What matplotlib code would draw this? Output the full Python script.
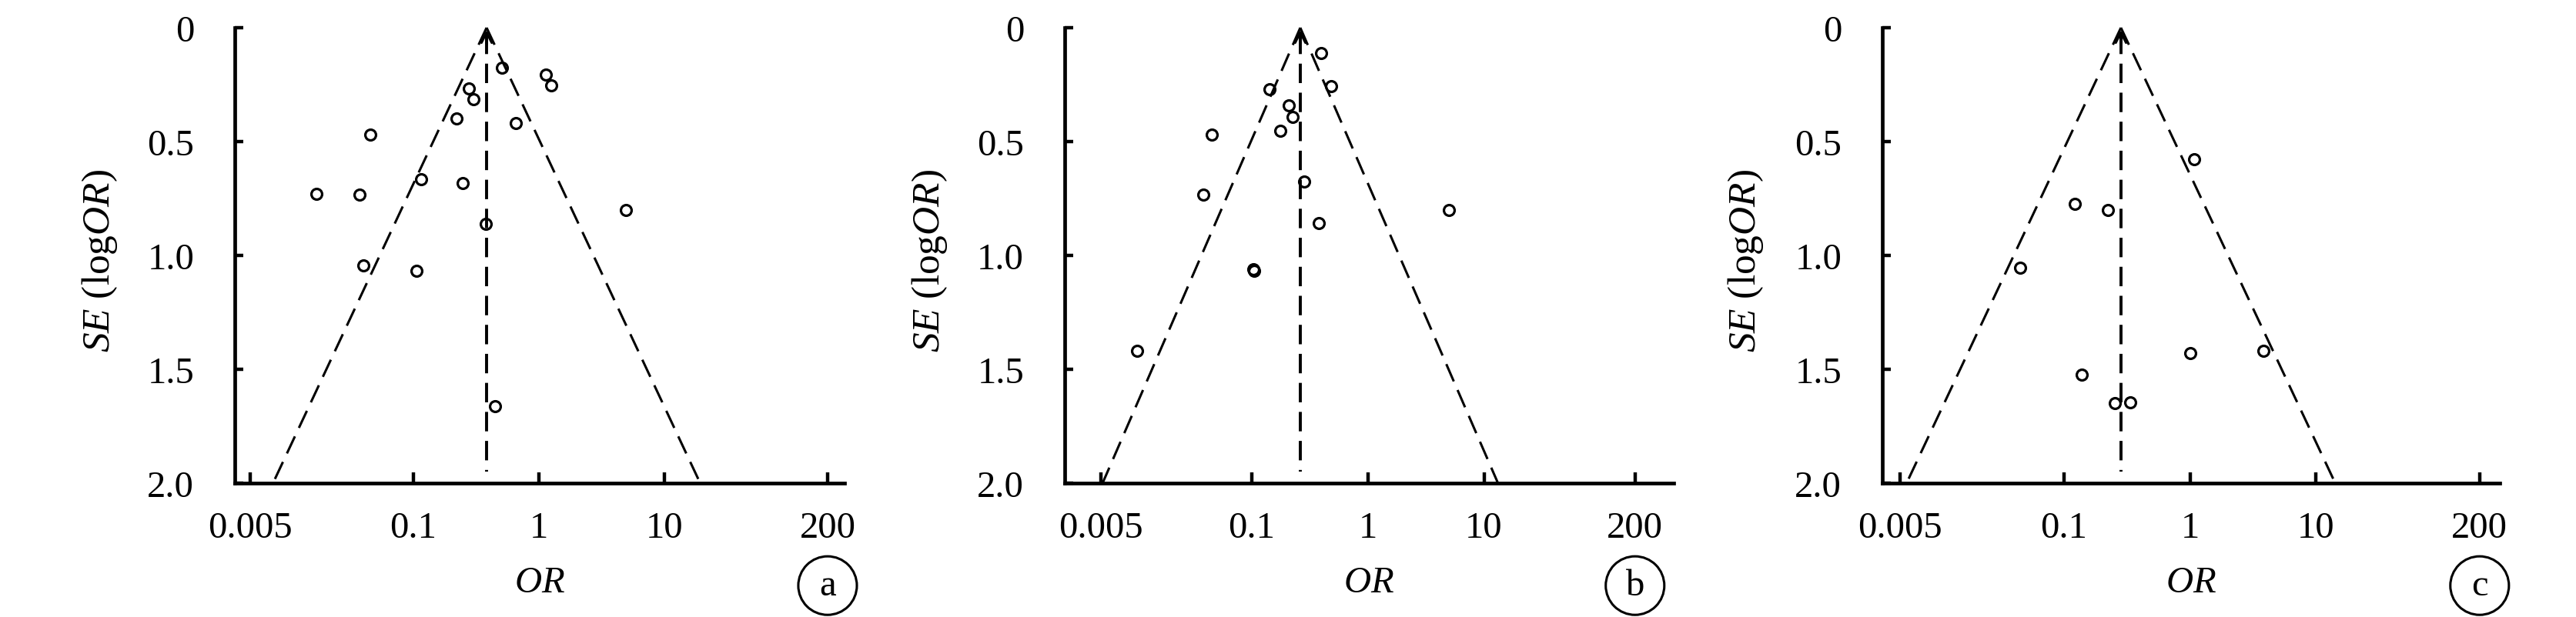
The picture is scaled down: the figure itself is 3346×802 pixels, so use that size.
import matplotlib
matplotlib.use('Agg')
import matplotlib.pyplot as plt
import numpy as np

plt.rcParams['font.family'] = 'Liberation Serif'
plt.rcParams['mathtext.fontset'] = 'custom'
plt.rcParams['mathtext.rm'] = 'Liberation Serif'
plt.rcParams['mathtext.it'] = 'Liberation Serif:italic'

# OR, SE(logOR), pooled OR
a_or = [0.507, 1.14, 1.25, 0.276, 0.302, 0.221, 0.653, 0.0453, 0.115, 0.247,
        0.0168, 0.037, 4.92, 0.378, 0.040, 0.106, 0.449]
a_se = [0.174, 0.205, 0.254, 0.266, 0.315, 0.397, 0.419, 0.471, 0.666, 0.683,
        0.730, 0.734, 0.802, 0.861, 1.045, 1.066, 1.661]
a_pool = 0.383

b_or = [0.394, 0.480, 0.142, 0.208, 0.225, 0.177, 0.0454, 0.283, 0.0381, 5.01,
        0.381, 0.104, 0.105, 0.0103]
b_se = [0.110, 0.257, 0.271, 0.341, 0.393, 0.454, 0.471, 0.675, 0.732, 0.802,
        0.859, 1.060, 1.068, 1.419]
b_pool = 0.262

c_or = [1.08, 0.122, 0.224, 0.045, 1.01, 3.83, 0.138, 0.253, 0.336]
c_se = [0.579, 0.774, 0.802, 1.054, 1.428, 1.419, 1.523, 1.649, 1.645]
c_pool = 0.283

xticks = [0.005, 0.1, 1, 10, 200]
xticklabels = ['0.005', '0.1', '1', '10', '200']
yticks = [0, 0.5, 1.0, 1.5, 2.0]
yticklabels = ['0', '0.5', '1.0', '1.5', '2.0']

panels = [
    (a_or, a_se, a_pool, 'a', [0.09115, 0.2167, 0.2367, 0.7372], (0.00377, 273)),
    (b_or, b_se, b_pool, 'b', [0.4133, 0.2167, 0.2364, 0.7372], (0.00245, 430)),
    (c_or, c_se, c_pool, 'c', [0.7307, 0.2167, 0.2397, 0.7372], (0.0036, 289)),
]

fig = plt.figure(figsize=(33.46, 8.03), dpi=100)

for ors, ses, pool, letter, rect, xlim in panels:
    ax = fig.add_axes(rect)
    ax.set_xscale('log')
    ax.set_xlim(xlim)
    ax.set_ylim(2.0, 0)

    # funnel limits (95%, natural-log SE)
    lo = pool * np.exp(-1.96 * 2.0)
    hi = pool * np.exp(1.96 * 2.0)
    ax.plot([pool, lo], [0, 2.0], color='black', lw=2.2, dashes=(8, 4), clip_on=False)
    ax.plot([pool, hi], [0, 2.0], color='black', lw=2.2, dashes=(8, 4), clip_on=False)
    ax.plot([pool, pool], [0.03, 1.95], color='black', lw=2.8, dashes=(6.5, 3.2))
    ax.annotate('', xy=(pool, 0), xytext=(pool, 0.08),
                arrowprops=dict(arrowstyle='->', lw=2.2, color='black', mutation_scale=24),
                annotation_clip=False)

    ax.plot(ors, ses, 'o', ms=10, mfc='none', mec='black', mew=2.3, clip_on=False)

    for s in ['top', 'right']:
        ax.spines[s].set_visible(False)
    for s in ['left', 'bottom']:
        ax.spines[s].set_linewidth(3.4)

    ax.set_xticks(xticks)
    ax.set_xticklabels(xticklabels)
    ax.minorticks_off()
    ax.set_yticks(yticks)
    ax.set_yticklabels(yticklabels)
    ax.tick_params(axis='x', direction='in', length=10, width=3.2, labelsize=35, pad=26)
    ax.tick_params(axis='y', direction='in', length=8, width=3.2, labelsize=35, pad=38)

    ax.set_xlabel('$OR$', fontsize=35)
    ax.xaxis.set_label_coords(0.5, -0.18)
    ax.set_ylabel('$SE$ (log$OR$)', fontsize=37)
    ax.yaxis.set_label_coords(-0.19, 0.49)

    ax.text(200, -0.225, letter, transform=ax.get_xaxis_transform(), fontsize=35,
            ha='center', va='center',
            bbox=dict(boxstyle='circle,pad=0.33', fc='white', ec='black', lw=2.2))

fig.savefig('out.png', dpi=100)
